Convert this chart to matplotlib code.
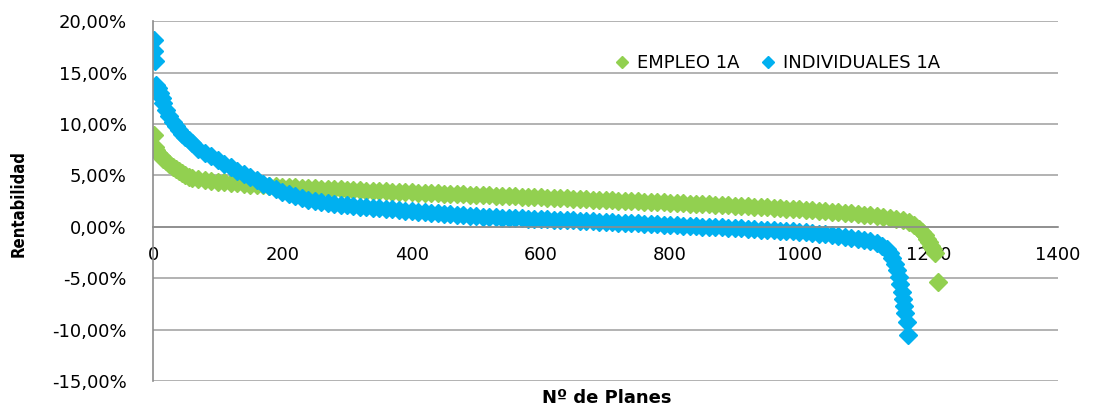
import matplotlib
matplotlib.use("Agg")
import matplotlib.pyplot as plt
from matplotlib.ticker import FuncFormatter, MultipleLocator

empleo_head_x = [1, 2, 3, 5, 8, 12, 16, 20, 25, 30, 35, 40, 45, 50, 55]
empleo_head_y = [13.3, 8.9, 7.8, 7.5, 7.2, 6.9, 6.6, 6.35, 6.1, 5.85, 5.6, 5.4, 5.2, 5.0, 4.85]
empleo_mid_y = [4.75, 4.62, 4.52, 4.44, 4.37, 4.31, 4.26, 4.21, 4.16, 4.11,
                4.06, 4.02, 3.98, 3.94, 3.90, 3.87, 3.84, 3.81, 3.78, 3.75,
                3.72, 3.69, 3.66, 3.63, 3.60, 3.57, 3.55, 3.52, 3.50, 3.47,
                3.45, 3.42, 3.40, 3.37, 3.35, 3.32, 3.30, 3.27, 3.25, 3.22,
                3.20, 3.17, 3.15, 3.12, 3.10, 3.07, 3.05, 3.02, 3.00, 2.97,
                2.95, 2.92, 2.90, 2.87, 2.85, 2.82, 2.80, 2.77, 2.75, 2.72,
                2.70, 2.67, 2.65, 2.62, 2.60, 2.57, 2.55, 2.52, 2.50, 2.47,
                2.45, 2.42, 2.40, 2.37, 2.35, 2.32, 2.29, 2.26, 2.23, 2.20,
                2.17, 2.14, 2.11, 2.08, 2.05, 2.02, 1.98, 1.95, 1.91, 1.88,
                1.84, 1.80, 1.76, 1.72, 1.68, 1.64, 1.60, 1.55, 1.51, 1.46,
                1.41, 1.36, 1.30, 1.24, 1.18, 1.12, 1.05, 0.97, 0.88, 0.78,
                0.66, 0.50]
empleo_tail_x = [1178, 1185, 1190, 1194, 1198, 1201, 1204, 1207, 1210, 1215]
empleo_tail_y = [0.15, -0.2, -0.5, -0.8, -1.15, -1.5, -1.85, -2.2, -2.6, -5.35]

indiv_head_x = [1, 2, 3, 5, 7, 10, 13, 16, 20, 25, 30, 35, 40, 45, 50, 55]
indiv_head_y = [18.2, 17.1, 16.1, 13.8, 13.5, 13.0, 12.5, 12.0, 11.4, 10.8,
                10.2, 9.8, 9.4, 9.0, 8.7, 8.4]
indiv_mid_y = [8.1, 7.6, 7.2, 6.85, 6.5, 6.15, 5.8, 5.45, 5.1, 4.8,
               4.5, 4.2, 3.95, 3.65, 3.4, 3.2, 3.0, 2.8, 2.65, 2.5,
               2.4, 2.3, 2.2, 2.15, 2.1, 2.0, 1.95, 1.9, 1.85, 1.8,
               1.75, 1.7, 1.6, 1.55, 1.5, 1.45, 1.4, 1.35, 1.3, 1.25,
               1.2, 1.15, 1.1, 1.05, 1.0, 0.97, 0.95, 0.92, 0.9, 0.87,
               0.85, 0.82, 0.8, 0.77, 0.75, 0.72, 0.7, 0.67, 0.65, 0.62,
               0.6, 0.57, 0.54, 0.5, 0.47, 0.44, 0.41, 0.38, 0.35, 0.32,
               0.29, 0.26, 0.23, 0.2, 0.17, 0.14, 0.11, 0.08, 0.05, 0.02,
               -0.01, -0.04, -0.07, -0.1, -0.13, -0.16, -0.2, -0.23, -0.27, -0.3,
               -0.34, -0.38, -0.42, -0.46, -0.5, -0.55, -0.6, -0.66, -0.72, -0.8,
               -0.88, -0.96, -1.05, -1.15, -1.27]
indiv_tail_x = [1110, 1120, 1128, 1135, 1140, 1144, 1148, 1151, 1154, 1156,
                1158, 1160, 1162, 1164, 1166, 1168]
indiv_tail_y = [-1.4, -1.6, -1.85, -2.2, -2.6, -3.0, -3.6, -4.2, -4.9, -5.6,
                -6.3, -7.0, -7.7, -8.4, -9.3, -10.5]

GREEN = "#92D050"
BLUE = "#00B0F0"
GRID = "#A6A6A6"


def main():
    # middle part sampled every 10 plans starting at rank 60
    empleo_x = empleo_head_x + list(range(60, 60 + 10 * len(empleo_mid_y), 10)) + empleo_tail_x
    empleo_y = empleo_head_y + empleo_mid_y + empleo_tail_y
    indiv_x = indiv_head_x + list(range(60, 60 + 10 * len(indiv_mid_y), 10)) + indiv_tail_x
    indiv_y = indiv_head_y + indiv_mid_y + indiv_tail_y

    fig = plt.figure(figsize=(10.94, 4.07), dpi=100)
    ax = fig.add_axes([0.140, 0.064, 0.827, 0.884])

    ax.plot(empleo_x, empleo_y, linestyle="none", marker="D", ms=9,
            color=GREEN, mec=GREEN, label="EMPLEO 1A")
    ax.plot(indiv_x, indiv_y, linestyle="none", marker="D", ms=9,
            color=BLUE, mec=BLUE, label="INDIVIDUALES 1A")

    ax.set_xlim(0, 1400)
    ax.set_ylim(-15, 20)
    ax.xaxis.set_major_locator(MultipleLocator(200))
    ax.yaxis.set_major_locator(MultipleLocator(5))
    ax.yaxis.set_major_formatter(FuncFormatter(lambda v, p: f"{v:.2f}%".replace(".", ",")))

    ax.grid(axis="y", color=GRID, linewidth=1.2)
    ax.set_axisbelow(True)
    for s in ["top", "right"]:
        ax.spines[s].set_visible(False)
    ax.spines["bottom"].set_position(("data", 0))
    ax.spines["bottom"].set_color("#8C8C8C")
    ax.spines["left"].set_color("#8C8C8C")
    ax.spines["bottom"].set_linewidth(1.2)
    ax.spines["left"].set_linewidth(1.2)
    ax.tick_params(axis="both", length=0, labelsize=13, colors="black")
    ax.tick_params(axis="y", pad=19)
    ax.tick_params(axis="x", pad=14)

    fig.text(0.017, 0.50, "Rentabilidad", rotation=90, ha="center", va="center",
             fontsize=12, fontweight="bold", fontstretch="condensed")
    fig.text(0.555, 0.022, "Nº de Planes", ha="center", va="center",
             fontsize=13, fontweight="bold")

    ax.legend(loc="center", bbox_to_anchor=(0.688, 0.883), ncol=2, frameon=False,
              fontsize=13, handletextpad=0.2, columnspacing=1.0, markerscale=0.7,
              handlelength=1.2)

    fig.savefig("out.png", dpi=100)
    plt.close(fig)


if __name__ == '__main__':
    main()
